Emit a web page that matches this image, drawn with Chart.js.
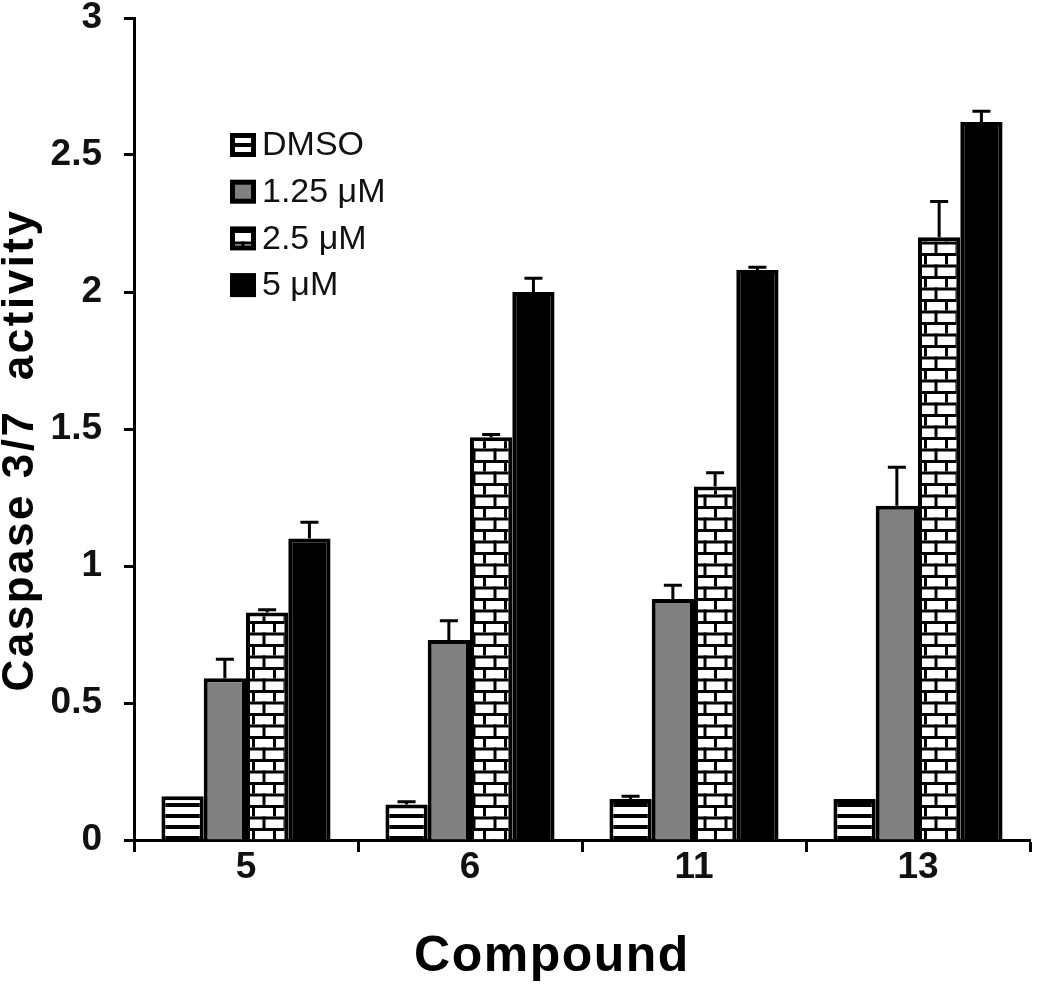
<!DOCTYPE html>
<html>
<head>
<meta charset="utf-8">
<script src="https://cdn.jsdelivr.net/npm/chart.js@4/dist/chart.umd.min.js"></script>
<style>
  html, body { margin: 0; padding: 0; background: #fff; }
  #wrap { width: 1050px; height: 986px; position: relative; }
</style>
</head>
<body>
<div id="wrap"><canvas id="chart"></canvas></div>
<script>
const categories = ["5", "6", "11", "13"];
const seriesLabels = ["DMSO", "1.25 \u03bcM", "2.5 \u03bcM", "5 \u03bcM"];
const dmso = [0.16, 0.13, 0.15, 0.15];
const dmsoErr = [0, 0.01, 0.01, 0];
const conc125 = [0.59, 0.73, 0.88, 1.22];
const conc125Err = [0.07, 0.07, 0.05, 0.14];
const conc25 = [0.83, 1.47, 1.29, 2.2];
const conc25Err = [0.01, 0.01, 0.05, 0.13];
const conc5 = [1.1, 2.0, 2.08, 2.62];
const conc5Err = [0.06, 0.05, 0.01, 0.04];
const yTicks = [0, 0.5, 1, 1.5, 2, 2.5, 3];
const xTitle = "Compound";
const yTitle = "Caspase 3/7  activity";

const FONT = "'Liberation Sans', Arial, sans-serif";

// horizontal stripes for DMSO
function stripePattern() {
  const c = document.createElement("canvas");
  c.width = 8; c.height = 11;
  const g = c.getContext("2d");
  g.fillStyle = "#fff";
  g.fillRect(0, 0, 8, 11);
  g.fillStyle = "#000";
  g.fillRect(0, 0, 8, 4);
  return g.createPattern(c, "repeat");
}

// white bricks with black mortar
function brickPattern() {
  const c = document.createElement("canvas");
  c.width = 21; c.height = 23;
  const g = c.getContext("2d");
  g.fillStyle = "#fff";
  g.fillRect(0, 0, 21, 23);
  g.fillStyle = "#000";
  g.fillRect(0, 0, 21, 3);
  g.fillRect(0, 11.5, 21, 3);
  g.fillRect(0, 0, 3, 11.5);
  g.fillRect(10.5, 11.5, 3, 11.5);
  return g.createPattern(c, "repeat");
}

const fills = [stripePattern(), "#808080", brickPattern(), "#000"];
const values = [dmso, conc125, conc25, conc5];
const errors = [dmsoErr, conc125Err, conc25Err, conc5Err];

const errorBars = {
  id: "errorBars",
  afterDatasetsDraw(chart) {
    const ctx = chart.ctx;
    const y = chart.scales.y;
    ctx.save();
    ctx.strokeStyle = "#000";
    ctx.lineWidth = 3;
    chart.data.datasets.forEach((ds, di) => {
      const meta = chart.getDatasetMeta(di);
      meta.data.forEach((bar, i) => {
        const err = errors[di][i];
        if (!err) return;
        const top = y.getPixelForValue(ds.data[i] + err);
        ctx.beginPath();
        ctx.moveTo(bar.x, bar.y);
        ctx.lineTo(bar.x, top);
        ctx.moveTo(bar.x - 9, top);
        ctx.lineTo(bar.x + 9, top);
        ctx.stroke();
      });
    });
    ctx.restore();
  },
};

const boxLegend = {
  id: "boxLegend",
  afterDraw(chart) {
    const ctx = chart.ctx;
    ctx.save();
    ctx.font = "34px " + FONT;
    ctx.textBaseline = "middle";
    chart.data.datasets.forEach((ds, i) => {
      const cy = 145 + i * 46.7;
      ctx.fillStyle = "#000";
      ctx.fillRect(230, cy - 12, 26, 24);
      ctx.fillStyle = ds.backgroundColor;
      ctx.fillRect(235, cy - 7, 16, 14);
      ctx.fillStyle = "#111";
      ctx.fillText(ds.label, 262, cy + 1);
    });
    ctx.restore();
  },
};

// axis titles, drawn by hand so they can sit where the original has them
const axisTitles = {
  id: "axisTitles",
  afterDraw(chart) {
    const ctx = chart.ctx;
    ctx.save();
    ctx.fillStyle = "#000";
    ctx.textAlign = "center";
    ctx.textBaseline = "middle";
    ctx.letterSpacing = "1.5px";
    ctx.font = "bold 50px " + FONT;
    ctx.fillText(xTitle, 552, 957);
    ctx.translate(21, 450);
    ctx.rotate(-Math.PI / 2);
    ctx.letterSpacing = "2.5px";
    ctx.font = "bold 44px " + FONT;
    ctx.fillText(yTitle, 0, 0);
    ctx.restore();
  },
};

new Chart(document.getElementById("chart"), {
  type: "bar",
  data: {
    labels: categories,
    datasets: values.map((v, i) => ({
      label: seriesLabels[i],
      data: v,
      backgroundColor: fills[i],
      borderColor: "#000",
      borderWidth: 4,
      categoryPercentage: 0.755,
      barPercentage: 1.0,
    })),
  },
  options: {
    responsive: true,
    maintainAspectRatio: false,
    animation: false,
    layout: { padding: { top: 0, right: 20, left: 0, bottom: 0 } },
    plugins: {
      legend: { display: false },
      tooltip: { enabled: false },
    },
    scales: {
      x: {
        grid: {
          offset: true,
          drawOnChartArea: false,
          tickLength: 12,
          tickColor: "#000",
          tickWidth: 3,
        },
        border: { color: "#000", width: 3 },
        ticks: {
          color: "#111",
          padding: -3,
          font: { family: FONT, size: 37, weight: "bold", lineHeight: 1 },
        },
        afterFit(scale) { scale.height = 146; },
      },
      y: {
        min: 0,
        max: 3,
        afterBuildTicks(scale) { scale.ticks = yTicks.map((v) => ({ value: v })); },
        grid: {
          drawOnChartArea: false,
          tickLength: 10,
          tickColor: "#000",
          tickWidth: 3,
        },
        border: { color: "#000", width: 3 },
        ticks: {
          color: "#111",
          padding: 22,
          callback: (v) => String(v),
          font: { family: FONT, size: 37, weight: "bold", lineHeight: 1 },
        },
        afterFit(scale) {
          scale.width = 134;
          scale.paddingTop = 18;
        },
      },
    },
  },
  plugins: [errorBars, boxLegend, axisTitles],
});
</script>
</body>
</html>
